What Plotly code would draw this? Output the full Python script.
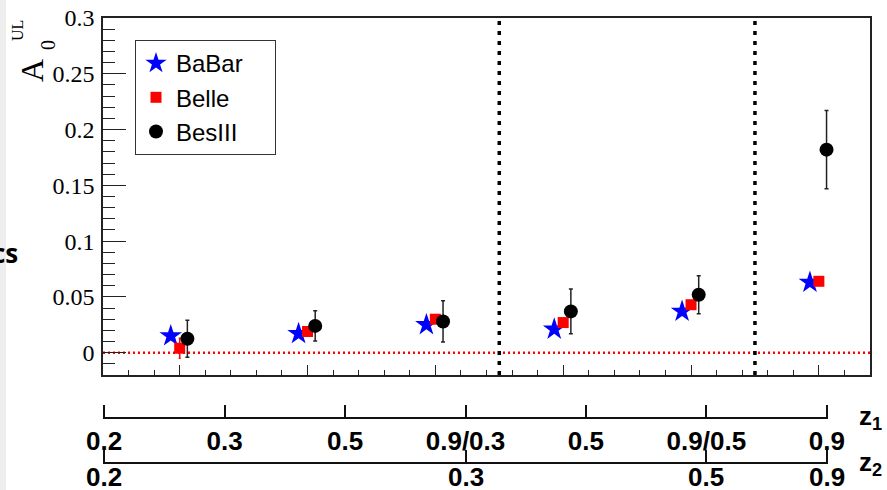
import plotly.graph_objects as go

# ---------------- data ----------------
bins = [1, 2, 3, 4, 5, 6]
babar = [0.015, 0.017, 0.025, 0.021, 0.037, 0.063]
belle = [0.004, 0.019, 0.030, 0.027, 0.043, 0.064]
belle_err = [0.009, 0.003, 0.003, 0.003, 0.003, 0.003]
besiii = [0.0125, 0.024, 0.028, 0.037, 0.052, 0.182]
besiii_err = [0.0165, 0.0135, 0.0185, 0.020, 0.017, 0.035]

z1_labels = ["0.2", "0.3", "0.5", "0.9/0.3", "0.5", "0.9/0.5", "0.9"]
z2_ticks = [0, 3, 5, 6]
z2_labels = ["0.2", "0.3", "0.5", "0.9"]
separators = [3.5, 5.5]

# ---------------- layout geometry ----------------
W, H = 887, 490
ML, MR, MT, MB = 103, 17, 18, 0
plot_w = W - ML - MR
plot_h = H - MT - MB
axis_bottom_px = 375
ydom0 = (H - axis_bottom_px) / plot_h

off_babar, off_belle, off_besiii = -0.07, 0.0, 0.06
legend_pad = "&nbsp;" * 4

fig = go.Figure()
fig.add_trace(go.Scatter(
    x=[b + off_babar for b in bins], y=babar, mode="markers", name="BaBar" + legend_pad,
    marker=dict(symbol="star", size=17, color="#0000ff", line=dict(width=0))))
fig.add_trace(go.Scatter(
    x=[b + off_belle for b in bins], y=belle, mode="markers", name="Belle" + legend_pad,
    marker=dict(symbol="square", size=11, color="#ff0000", line=dict(width=0)),
    error_y=dict(type="data", array=belle_err, color="#ff0000", thickness=1.5, width=1)))
fig.add_trace(go.Scatter(
    x=[b + off_besiii for b in bins], y=besiii, mode="markers", name="BesIII" + legend_pad,
    marker=dict(symbol="circle", size=14, color="#000000", line=dict(width=0)),
    error_y=dict(type="data", array=besiii_err, color="#222222", thickness=1.5, width=2)))
# dummy traces so the z-scale axes are drawn
fig.add_trace(go.Scatter(x=[None], y=[None], xaxis="x2", yaxis="y", showlegend=False, hoverinfo="skip"))
fig.add_trace(go.Scatter(x=[None], y=[None], xaxis="x3", yaxis="y", showlegend=False, hoverinfo="skip"))

# reference lines
fig.add_shape(type="line", xref="x", yref="y", x0=0.4, x1=6.4, y0=0, y1=0,
              line=dict(color="#ff0000", width=2.5, dash="2px,3px"), layer="below")
for s in separators:
    fig.add_shape(type="line", xref="x", yref="y", x0=s, x1=s, y0=-0.02, y1=0.3,
                  line=dict(color="#000000", width=3.5, dash="4px,6px"))

# left grey strip of the slide
fig.add_shape(type="rect", xref="paper", yref="paper", xsizemode="pixel", xanchor=0,
              x0=-ML, x1=-ML + 6, y0=-0.05, y1=(plot_h + MT) / plot_h,
              fillcolor="#eeeeee", line=dict(width=0))

serif = "Liberation Serif"
sans = "Liberation Sans"

zpad = 0.01
zscale_dom = [0, (828 - ML) / plot_w]

fig.update_layout(
    width=W, height=H, autosize=False,
    margin=dict(l=ML, r=MR, t=MT, b=MB, pad=0, autoexpand=False),
    paper_bgcolor="white", plot_bgcolor="rgba(0,0,0,0)",
    showlegend=True,
    legend=dict(x=(135 - ML) / plot_w, y=(H - 40) / plot_h, xanchor="left", yanchor="top",
                bgcolor="white", bordercolor="#333333", borderwidth=1,
                font=dict(family=sans, size=24, color="black"),
                itemsizing="trace"),
    xaxis=dict(range=[0.4, 6.4], showgrid=False, zeroline=False, automargin=False,
               showline=True, linecolor="#222222", linewidth=1.5, mirror=True,
               ticks="inside", tickvals=bins, ticklen=10, tickwidth=1.2, tickcolor="#222222",
               minor=dict(dtick=0.2, tick0=0, ticks="inside", ticklen=5, tickcolor="#222222", tickwidth=1),
               showticklabels=False, anchor="y"),
    yaxis=dict(range=[-0.02, 0.3], domain=[ydom0, 1], showgrid=False, zeroline=False, automargin=False,
               showline=True, linecolor="#222222", linewidth=1.5, mirror=True,
               ticks="inside", dtick=0.05, tick0=0, ticklen=23, tickwidth=1.2, tickcolor="#222222",
               minor=dict(dtick=0.01, tick0=0, ticks="inside", ticklen=12, tickcolor="#222222", tickwidth=1),
               tickfont=dict(family=serif, size=24, color="black"), ticklabelstandoff=2),
    xaxis2=dict(range=[-zpad, 6 + zpad], domain=zscale_dom, anchor="free", position=(H - 418) / plot_h,
                showgrid=False, zeroline=False, showline=True, linecolor="#111111", linewidth=2,
                automargin=False,
                ticks="inside", ticklen=12, tickwidth=2, tickcolor="#111111",
                tickvals=list(range(7)), ticktext=z1_labels,
                tickfont=dict(family=sans, size=26, color="black", weight="bold"),
                ticklabelstandoff=0),
    xaxis3=dict(range=[-zpad, 6 + zpad], domain=zscale_dom, anchor="free", position=(H - 463) / plot_h,
                showgrid=False, zeroline=False, showline=True, linecolor="#111111", linewidth=2,
                automargin=False,
                ticks="inside", ticklen=12, tickwidth=2, tickcolor="#111111",
                tickvals=z2_ticks, showticklabels=False),
)

# z2 labels placed on the x3 scale just below its line
for t, lab in zip(z2_ticks, z2_labels):
    fig.add_annotation(text=lab, xref="x3", x=t, yref="paper", y=1, yshift=MT - 460,
                       xanchor="center", yanchor="top", showarrow=False,
                       font=dict(family=sans, size=26, color="black", weight="bold"))

def ann(text, px, py, size, family, angle=0, xanchor="center", yanchor="middle", weight="normal"):
    fig.add_annotation(text=text, xref="paper", yref="paper", x=0, y=1,
                       xshift=px - ML, yshift=MT - py, showarrow=False, textangle=angle,
                       xanchor=xanchor, yanchor=yanchor,
                       font=dict(family=family, size=size, color="black", weight=weight))

# y-axis title A_0^UL (rotated)
ann("A", 32, 71, 32, serif, angle=-90)
ann("0", 48, 45, 20, serif, angle=-90)
ann("UL", 17, 31, 16, serif, angle=-90)

# z labels
ann("z<sub>1</sub>", 857, 417, 26, sans, xanchor="left", weight="bold")
ann("z<sub>2</sub>", 857, 463, 26, sans, xanchor="left", weight="bold")

# fragment of slide text on the left
ann("cs", 20, 253, 26, "Open Sans", xanchor="right", weight="bold")

post_js = (
    "document.documentElement.style.margin='0px';"
    "document.documentElement.style.overflow='hidden';"
    "document.body.style.margin='0px';"
    "document.body.style.overflow='hidden';"
)

fig.write_html("out.html", config={"displayModeBar": False}, post_script=post_js)
